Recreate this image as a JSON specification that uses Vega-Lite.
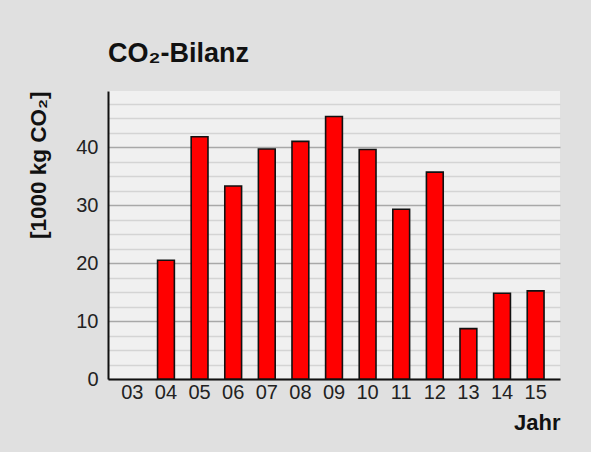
{
  "$schema": "https://vega.github.io/schema/vega-lite/v6.json",
  "width": 452,
  "height": 288,
  "autosize": {"type": "none"},
  "padding": {"left": 108, "top": 91, "right": 31, "bottom": 73},
  "background": "#e0e0e0",
  "title": {
    "text": "CO₂-Bilanz",
    "anchor": "start",
    "frame": "group",
    "font": "Liberation Sans",
    "fontSize": 27,
    "fontWeight": "bold",
    "color": "#111111",
    "baseline": "alphabetic",
    "offset": 2
  },
  "data": {
    "values": [
      {"Jahr": "04", "CO2": 20.5},
      {"Jahr": "05", "CO2": 41.8},
      {"Jahr": "06", "CO2": 33.3},
      {"Jahr": "07", "CO2": 39.7},
      {"Jahr": "08", "CO2": 41.0},
      {"Jahr": "09", "CO2": 45.3},
      {"Jahr": "10", "CO2": 39.6},
      {"Jahr": "11", "CO2": 29.3},
      {"Jahr": "12", "CO2": 35.7},
      {"Jahr": "13", "CO2": 8.7},
      {"Jahr": "14", "CO2": 14.8},
      {"Jahr": "15", "CO2": 15.2}
    ]
  },
  "mark": {"type": "bar", "fill": "#ff0000", "stroke": "#111111", "strokeWidth": 1.6},
  "encoding": {
    "x": {
      "field": "Jahr",
      "type": "ordinal",
      "scale": {
        "domain": ["03", "04", "05", "06", "07", "08", "09", "10", "11", "12", "13", "14", "15"],
        "paddingInner": 0.5,
        "paddingOuter": 0.475
      },
      "axis": {
        "title": "Jahr",
        "labelAngle": 0,
        "ticks": false,
        "domainColor": "#111111",
        "domainWidth": 2,
        "labelFont": "Liberation Sans",
        "labelFontSize": 20,
        "labelColor": "#222222",
        "labelPadding": 3,
        "titleFont": "Liberation Sans",
        "titleFontSize": 22,
        "titleFontWeight": "bold",
        "titleColor": "#111111",
        "titleAnchor": "end",
        "titleAlign": "right",
        "titlePadding": 10
      }
    },
    "y": {
      "field": "CO2",
      "type": "quantitative",
      "scale": {"domain": [0, 49.7], "nice": false},
      "axis": {
        "title": "[1000 kg CO₂]",
        "values": [0, 2.5, 5, 7.5, 10, 12.5, 15, 17.5, 20, 22.5, 25, 27.5, 30, 32.5, 35, 37.5, 40, 42.5, 45, 47.5],
        "labelExpr": "datum.value % 10 === 0 ? datum.label : ''",
        "ticks": false,
        "grid": true,
        "gridColor": {"condition": {"test": "datum.value % 10 === 0", "value": "#a8a8a8"}, "value": "#d4d4d4"},
        "gridWidth": 1.5,
        "domainColor": "#111111",
        "domainWidth": 2,
        "labelFont": "Liberation Sans",
        "labelFontSize": 20,
        "labelColor": "#222222",
        "labelPadding": 10,
        "titleFont": "Liberation Sans",
        "titleFontSize": 22.5,
        "titleFontWeight": "bold",
        "titleColor": "#111111",
        "titleAnchor": "end",
        "titlePadding": 25
      }
    }
  },
  "config": {
    "view": {"fill": "#f0f0f0", "stroke": null}
  }
}
